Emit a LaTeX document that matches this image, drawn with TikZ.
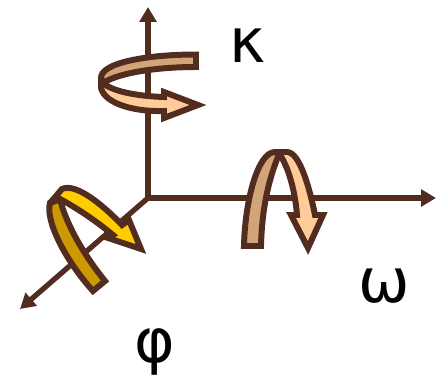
\documentclass[tikz,border=0pt]{standalone}
\usepackage{fontspec}
\setmainfont{DejaVu Sans}
\usetikzlibrary{arrows.meta}
\definecolor{axisBrown}{RGB}{82,44,30}
\definecolor{ribbonTan}{RGB}{210,165,120}
\definecolor{ribbonPeach}{RGB}{255,204,153}
\definecolor{ribbonGold}{RGB}{255,204,0}
\definecolor{ribbonOchre}{RGB}{204,153,0}
\tikzset{
  axisline/.style={draw=axisBrown, line width=3pt, -{Triangle[length=8.5pt,width=9.5pt]}},
  ribbon/.style={draw=axisBrown, line width=3.4pt, line join=miter, miter limit=3, fill=#1},
  anglelabel/.style={font=\fontsize{35}{35}\selectfont, text=black, inner sep=0pt}
}
\begin{document}
\begin{tikzpicture}[x=0.02cm, y=-0.02cm]
  \useasboundingbox (0,0) rectangle (437,379);
  % axes
  \coordinate (origin) at (148,198);
  \coordinate (kappaend) at (148,7);
  \coordinate (omegaend) at (436,198);
  \coordinate (phiend) at (20,309);
  \draw[axisline] (origin) -- (kappaend);
  \draw[axisline] (origin) -- (omegaend);
  \draw[axisline] (origin) -- (phiend);
  % kappa ribbon
  \draw[ribbon=ribbonTan] (196,54.5) .. controls (150,54.5) and (101,62) .. (101,78)
    -- (103,83) .. controls (120,72) and (160,67) .. (196,67) -- cycle;
  \draw[ribbon=ribbonPeach] (101,78) -- (101,88) .. controls (105,104) and (135,112) .. (164,111)
    -- (164,118) -- (198,105) -- (164,92) -- (164,97)
    .. controls (135,96) and (112,91) .. (103,83) -- cycle;
  % omega ribbon
  \draw[ribbon=ribbonTan] (244,246) .. controls (245,200) and (258,152) .. (275,152)
    -- (280,152) .. controls (270,175) and (262,205) .. (261,246) -- cycle;
  \draw[ribbon=ribbonPeach] (275,152) -- (287,152) .. controls (300,152) and (310,190) .. (315,215)
    -- (323,215) -- (308,248) -- (291,215) -- (297,215)
    .. controls (295,190) and (288,165) .. (278,152) -- cycle;
  % phi ribbon
  \draw[ribbon=ribbonOchre] (50,203) .. controls (45,220) and (65,260) .. (93,291)
    -- (105,281) .. controls (80,250) and (65,220) .. (60,199) -- cycle;
  \draw[ribbon=ribbonGold] (50,203) -- (62,189) .. controls (75,183) and (100,202) .. (122,225)
    -- (129,220) -- (141,249) -- (108,238) -- (113,235)
    .. controls (95,220) and (75,207) .. (60,199) -- cycle;
  % labels
  \node[anglelabel] (kappalabel) at (248,46) {κ};
  \node[anglelabel] (omegalabel) at (384,286) {ω};
  \node[anglelabel] (philabel) at (155,352) {φ};
\end{tikzpicture}
\end{document}
